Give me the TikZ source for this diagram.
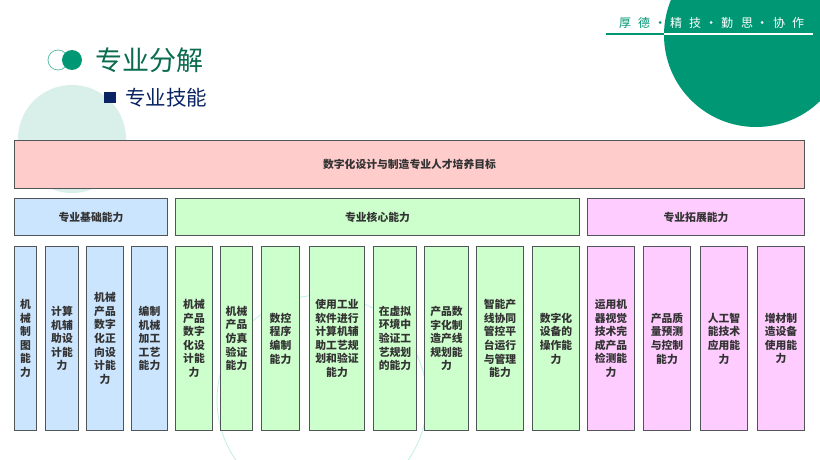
\documentclass[tikz,border=0pt]{standalone}
\usepackage{fontspec}
\setmainfont{Noto Sans CJK SC}
\definecolor{bankgreen}{HTML}{009874}
\definecolor{titlegreen}{HTML}{0A6B4F}
\definecolor{navy}{HTML}{0A2463}
\definecolor{paleround}{HTML}{D9EFE9}
\definecolor{thinround}{HTML}{BFF0E6}
\definecolor{aimred}{HTML}{FFCCCC}
\definecolor{basicblue}{HTML}{CCE5FF}
\definecolor{coregreen}{HTML}{CCFFCC}
\definecolor{extpink}{HTML}{FFCCFF}
\definecolor{edgegrey}{HTML}{505558}
\definecolor{inkgrey}{HTML}{333333}
\tikzset{
  capbox/.style={draw=edgegrey, line width=1.1pt, inner sep=0pt, text=inkgrey, align=center,
    font=\fontsize{10.8}{13.6}\selectfont\bfseries, minimum height=184.5pt},
  headbox/.style={capbox, minimum height=37.5pt},
  basic/.style={fill=basicblue},
  core/.style={fill=coregreen},
  ext/.style={fill=extpink},
  mottochar/.style={font=\fontsize{12}{12}\selectfont, inner sep=0pt},
  mottodot/.style={circle, inner sep=0pt, minimum size=3pt}
}
\begin{document}
\begin{tikzpicture}[x=1pt,y=-1pt]
    \useasboundingbox (0,0) rectangle (820,460);
    \clip (0,0) rectangle (820,460);
    \fill[white] (0,0) rectangle (820,460);
    % background rounds
    \fill[paleround] (72,139) circle[radius=54pt];
    \fill[bankgreen] (756,35) circle[radius=92pt];
    \draw[thinround, line width=0.8pt] (322,400) circle[radius=105pt];
    % motto
    \draw[bankgreen, line width=1.2pt] (606,34) -- (664,34);
    \draw[white, line width=1.2pt] (664,34) -- (813,34);
    \foreach \px/\ch in {625/厚,644/德}
      \node[mottochar, text=bankgreen] (m\px) at (\px,23) {\ch};
    \foreach \px/\ch in {676/精,695/技,727/勤,747/思,779/协,798/作}
      \node[mottochar, text=white] (m\px) at (\px,23) {\ch};
    \node[mottodot, fill=bankgreen] (d660) at (660,22.5) {};
    \foreach \px in {711,762}
      \node[mottodot, fill=white] (d\px) at (\px,22.5) {};
    % title
    \draw[bankgreen!60, line width=0.8pt, fill=white] (58,60) circle[radius=10pt];
    \fill[bankgreen] (72,60) circle[radius=10pt];
    \node[text=titlegreen, font=\fontsize{27}{27}\selectfont, inner sep=0pt] (title) at (149.5,60) {专业分解};
    \fill[navy] (104,92) rectangle (115.5,103.5);
    \node[text=navy, font=\fontsize{20.5}{20.5}\selectfont, inner sep=0pt] (subtitle) at (166,98) {专业技能};
    % top rows
    \node[headbox, fill=aimred, minimum width=790.5pt, minimum height=48.5pt] (aim) at (409.5,164.5) {数字化设计与制造专业人才培养目标};
    \node[headbox, basic, minimum width=153.5pt] (hbasic) at (91,217) {专业基础能力};
    \node[headbox, core, minimum width=404.5pt] (hcore) at (377.5,217) {专业核心能力};
    \node[headbox, ext, minimum width=217.5pt] (hext) at (696,217) {专业拓展能力};
    % basic column
    \node[capbox, basic, minimum width=22.5pt] (b1) at (25.5,338.5) {机\\械\\制\\图\\能\\力};
    \node[capbox, basic, minimum width=33.5pt] (b2) at (62,338.5) {计算\\机辅\\助设\\计能\\力};
    \node[capbox, basic, minimum width=37.5pt] (b3) at (105,338.5) {机械\\产品\\数字\\化正\\向设\\计能\\力};
    \node[capbox, basic, minimum width=36.5pt] (b4) at (149.5,338.5) {编制\\机械\\加工\\工艺\\能力};
    % core column
    \node[capbox, core, minimum width=37.5pt] (c1) at (194,338.5) {机械\\产品\\数字\\化设\\计能\\力};
    \node[capbox, core, minimum width=32.5pt] (c2) at (236.5,338.5) {机械\\产品\\仿真\\验证\\能力};
    \node[capbox, core, minimum width=38.5pt] (c3) at (280.5,338.5) {数控\\程序\\编制\\能力};
    \node[capbox, core, minimum width=55.5pt] (c4) at (337,338.5) {使用工业\\软件进行\\计算机辅\\助工艺规\\划和验证\\能力};
    \node[capbox, core, minimum width=43.5pt] (c5) at (395,338.5) {在虚拟\\环境中\\验证工\\艺规划\\的能力};
    \node[capbox, core, minimum width=43.5pt] (c6) at (446.5,338.5) {产品数\\字化制\\造产线\\规划能\\力};
    \node[capbox, core, minimum width=47.5pt] (c7) at (500,338.5) {智能产\\线协同\\管控平\\台运行\\与管理\\能力};
    \node[capbox, core, minimum width=47.5pt] (c8) at (556,338.5) {数字化\\设备的\\操作能\\力};
    % extended column
    \node[capbox, ext, minimum width=47.5pt] (e1) at (611,338.5) {运用机\\器视觉\\技术完\\成产品\\检测能\\力};
    \node[capbox, ext, minimum width=47.5pt] (e2) at (667,338.5) {产品质\\量预测\\与控制\\能力};
    \node[capbox, ext, minimum width=47.5pt] (e3) at (724,338.5) {人工智\\能技术\\应用能\\力};
    \node[capbox, ext, minimum width=47.5pt] (e4) at (781,338.5) {增材制\\造设备\\使用能\\力};
\end{tikzpicture}
\end{document}
